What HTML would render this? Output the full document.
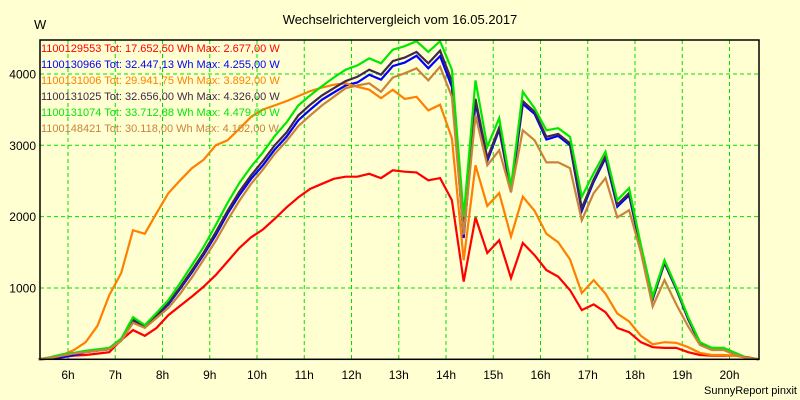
<!DOCTYPE html>
<html><head><meta charset="utf-8"><style>
html,body{margin:0;padding:0;background:#ffffd2;}
svg{display:block;font-family:"Liberation Sans",sans-serif;}
</style></head><body>
<svg id="chart" width="800" height="400" viewBox="0 0 800 400" xmlns="http://www.w3.org/2000/svg">
<rect x="0" y="0" width="800" height="400" fill="#ffffd2"/>
<text x="400" y="24" font-size="13" text-anchor="middle" fill="#000">Wechselrichtervergleich vom 16.05.2017</text>
<text x="34" y="29" font-size="13" fill="#000">W</text>
<g id="grid"></g>
<g id="series"></g>
<g id="axes"></g>
<g id="legend"></g>
<text x="797" y="394" font-size="11" text-anchor="end" fill="#000">SunnyReport pinxit</text>
</svg>
<script>
const hourTicks = [6,7,8,9,10,11,12,13,14,15,16,17,18,19,20];
const yTicks = [1000,2000,3000,4000];
const startTime = 5.375;
const stepHours = 0.25;
const seriesNames = ["1100129553 Tot: 17.652,50 Wh Max: 2.677,00 W","1100130966 Tot: 32.447,13 Wh Max: 4.255,00 W","1100131006 Tot: 29.941,75 Wh Max: 3.892,00 W","1100131025 Tot: 32.656,00 Wh Max: 4.326,00 W","1100131074 Tot: 33.712,88 Wh Max: 4.479,00 W","1100148421 Tot: 30.118,00 Wh Max: 4.102,00 W"];
const seriesColors = ["#ff0000","#0000ff","#ff8000","#402848","#00e800","#c8843c"];
const red = [0,10,30,50,60,80,100,270,410,330,440,620,750,880,1020,1180,1370,1560,1710,1820,1970,2130,2270,2390,2460,2530,2560,2560,2600,2540,2650,2630,2620,2510,2540,2230,1090,1990,1490,1670,1140,1630,1460,1250,1160,970,690,770,660,440,380,240,170,160,160,100,60,50,50,50,30,0];
const blue = [0,10,30,60,100,120,140,260,550,450,610,770,990,1220,1470,1740,2040,2300,2530,2720,2940,3120,3350,3500,3640,3740,3840,3880,3990,3920,4110,4160,4255,4080,4250,3820,1700,3600,2780,3220,2350,3580,3440,3080,3130,3000,2080,2490,2820,2140,2300,1540,840,1350,980,560,220,140,140,80,20,0];
const orange = [0,20,60,130,240,470,900,1210,1810,1760,2050,2330,2510,2680,2800,3000,3070,3230,3400,3500,3560,3620,3690,3760,3810,3850,3870,3820,3780,3660,3780,3650,3680,3490,3570,3100,1390,2720,2150,2330,1720,2280,2080,1760,1640,1400,930,1110,920,640,530,330,210,240,230,170,90,60,60,50,20,0];
const dark = [0,20,50,80,110,130,150,270,560,460,620,790,1010,1250,1500,1780,2080,2350,2580,2780,3000,3180,3420,3570,3700,3800,3900,3960,4060,3990,4180,4230,4310,4150,4326,3900,1850,3650,2820,3250,2380,3620,3470,3120,3160,3030,2120,2520,2850,2170,2330,1560,850,1360,990,570,230,140,140,80,20,0];
const green = [0,30,70,90,120,140,160,290,590,480,650,830,1070,1320,1580,1880,2190,2470,2700,2900,3130,3320,3560,3700,3830,3950,4060,4120,4220,4150,4340,4390,4460,4310,4460,4060,2000,3910,2980,3380,2420,3750,3520,3210,3240,3120,2280,2610,2910,2230,2400,1600,880,1390,1010,590,240,160,160,90,20,0];
const tan = [0,20,50,80,100,120,140,260,510,440,580,720,920,1150,1400,1660,1950,2220,2460,2660,2880,3060,3270,3420,3560,3680,3800,3840,3870,3750,3950,4010,4080,3910,4102,3680,1750,3420,2720,2930,2340,3210,3070,2760,2760,2680,1950,2330,2540,1990,2090,1500,740,1110,770,460,200,130,130,60,20,0];
const allSeries = [red, blue, orange, dark, green, tan];
const seriesKeys = ["red","blue","orange","dark","green","tan"];

const NS = "http://www.w3.org/2000/svg";
const plotL = 40, plotR = 759, plotT = 40, plotB = 359.3;
function xScale(h){ return 68 + (h - 6) * 47.25; }
function yScale(v){ return plotB - v * 0.07133; }
function mk(tag, attrs, parent){ const e = document.createElementNS(NS, tag); for (const k in attrs) e.setAttribute(k, attrs[k]); parent.appendChild(e); return e; }

const grid = document.getElementById('grid');
hourTicks.forEach(h => {
  const l = mk('line', {x1:xScale(h), x2:xScale(h), y1:plotT, y2:plotB, stroke:'#00e000', 'stroke-width':1, 'stroke-dasharray':'4,3'}, grid);
  
  
});
yTicks.forEach(v => {
  const l = mk('line', {x1:plotL, x2:plotR, y1:yScale(v), y2:yScale(v), stroke:'#00e000', 'stroke-width':1, 'stroke-dasharray':'4,3'}, grid);
  
  
});

const sg = document.getElementById('series');
allSeries.forEach((arr, si) => {
  const pts = arr.map((v, i) => xScale(startTime + i * stepHours).toFixed(1) + ',' + yScale(v).toFixed(1)).join(' ');
  const p = mk('polyline', {points: pts, fill:'none', stroke: seriesColors[si], 'stroke-width': 2.2, 'stroke-linejoin':'miter'}, sg);
  
  
});

const ax = document.getElementById('axes');
const frame = mk('rect', {x:plotL, y:plotT, width:plotR-plotL, height:plotB-plotT, fill:'none', stroke:'#000', 'stroke-width':1.5}, ax);


hourTicks.forEach(h => {
  const t = mk('text', {x:xScale(h), y:379, 'font-size':12, 'text-anchor':'middle', fill:'#000'}, ax);
  t.textContent = h + 'h';
  
  
});
yTicks.forEach(v => {
  const t = mk('text', {x:36, y:yScale(v)+4.5, 'font-size':12, 'text-anchor':'end', fill:'#000'}, ax);
  t.textContent = String(v);
  
  
});

const lg = document.getElementById('legend');
const legendY = [52,68,84,100,116,132];
seriesNames.forEach((n, i) => {
  const t = mk('text', {x:41, y:legendY[i], 'font-size':11, fill: seriesColors[i]}, lg);
  t.textContent = n;
  
  
});
</script>
</body></html>
